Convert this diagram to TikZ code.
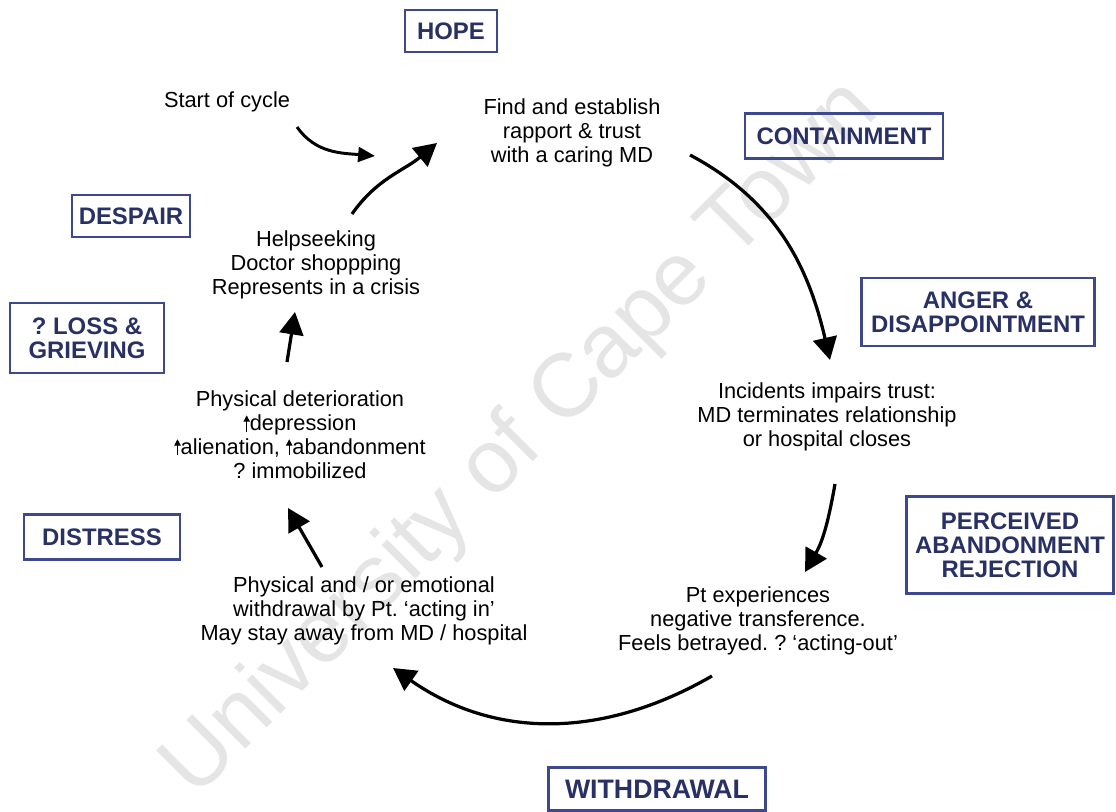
\documentclass[tikz,border=0pt]{standalone}
\usepackage{fontspec}
\setmainfont{Liberation Sans}
\usetikzlibrary{arrows.meta}
\definecolor{stampblue}{RGB}{62,72,140}
\definecolor{stamptext}{RGB}{40,48,100}
\newcommand{\upa}{\tikz[baseline=0pt]\draw[line width=.8pt,-{Triangle[length=4.5pt,width=4.5pt]}] (0,-.5pt) -- (0,11pt);}
\frenchspacing

\begin{document}
\begin{tikzpicture}[
  stamp/.style={draw=stampblue,line width=2pt,text=stamptext,font=\fontsize{17}{17}\selectfont\bfseries,align=center,inner sep=2pt},
  txt/.style={align=center,font=\fontsize{15.5}{17}\selectfont,inner sep=2pt},
  cyc/.style={line width=2.3pt,-{Triangle[length=16pt,width=17pt]}},
]
\useasboundingbox (0,0) rectangle (27.9,20.3);

\node[rotate=45,text=black!10,font=\fontsize{64}{64}\selectfont] (mark) at (13.05,9.3) {University of Cape Town};

\node[stamp,minimum width=2.3cm,minimum height=1.05cm] (hope) at (11.275,19.525) {HOPE};
\node[stamp,minimum width=4.95cm,minimum height=1.125cm] (contain) at (21.1,16.9) {CONTAINMENT};
\node[stamp,minimum width=5.825cm,minimum height=1.7cm] (anger) at (24.45,12.5) {ANGER \&\\DISAPPOINTMENT};
\node[stamp,minimum width=5.175cm,minimum height=2.425cm] (perceived) at (25.25,6.675) {PERCEIVED\\ABANDONMENT\\REJECTION};
\node[stamp,minimum width=5.425cm,minimum height=1.075cm,font=\fontsize{19}{19}\selectfont\bfseries] (withdraw) at (16.425,0.575) {WITHDRAWAL};
\node[stamp,minimum width=3.9cm,minimum height=1.125cm] (distress) at (2.55,6.875) {DISTRESS};
\node[stamp,minimum width=3.85cm,minimum height=1.75cm] (loss) at (2.175,11.85) {? LOSS \&\\GRIEVING};
\node[stamp,minimum width=2.95cm,minimum height=1.05cm] (despair) at (3.275,14.9) {DESPAIR};

\node[txt] (start) at (5.675,17.75) {Start of cycle};
\node[txt] (find) at (14.3,16.975) {Find and establish\\rapport \& trust\\with a caring MD};
\node[txt] (incid) at (20.675,9.875) {Incidents impairs trust:\\MD terminates relationship\\or hospital closes};
\node[txt] (ptexp) at (18.95,4.775) {Pt experiences\\negative transference.\\Feels betrayed. ? ‘acting-out’};
\node[txt] (physand) at (9.1,5.025) {Physical and / or emotional\\withdrawal by Pt. ‘acting in’\\May stay away from MD / hospital};
\node[txt] (deterior) at (7.5,9.425) {Physical deterioration\\\upa depression\\\upa alienation, \upa abandonment\\? immobilized};
\node[txt] (help) at (7.9,13.675) {Helpseeking\\Doctor shoppping\\Represents in a crisis};

\draw[line width=2.1pt,-{Triangle[length=12pt,width=10.5pt]}] ([shift={(1.75,-.625)}]start.center) to[out=-55,in=175] ([shift={(-4.925,-.575)}]find.center);
\draw[cyc] ([shift={(2.95,-.55)}]find.center) to[out=-28,in=103] ([shift={(.075,1.425)}]incid.center);
\draw[cyc] ([shift={(.2,-1.675)}]incid.center) to[out=-100,in=60] ([shift={(1.175,1.225)}]ptexp.center);
\draw[cyc] ([shift={(-1.15,-1.375)}]ptexp.center) to[out=210,in=-35] ([shift={(.725,-1.425)}]physand.center);
\draw[cyc] ([shift={(-1.05,1.1)}]physand.center) -- ([shift={(-.3,-1.825)}]deterior.center);
\draw[cyc] ([shift={(-.325,1.825)}]deterior.center) -- ([shift={(-.525,-1.175)}]help.center);
\draw[cyc] ([shift={(.9,1.275)}]help.center) to[out=55,in=-140] ([shift={(-3.375,-.25)}]find.center);

\end{tikzpicture}
\end{document}
